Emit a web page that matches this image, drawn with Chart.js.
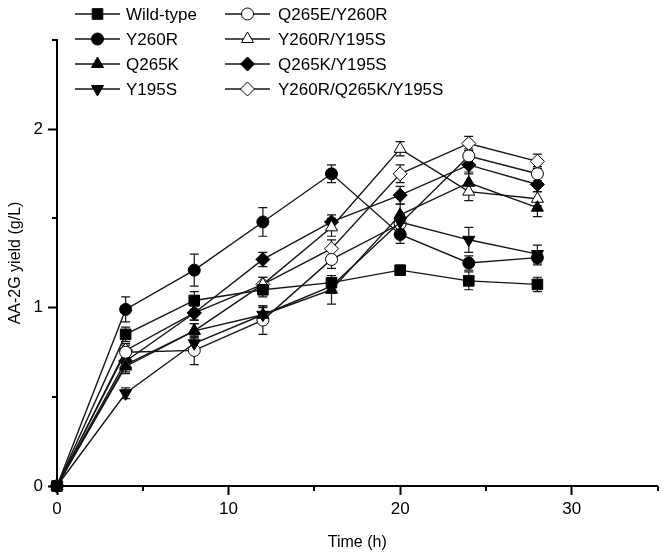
<!DOCTYPE html>
<html><head><meta charset="utf-8">
<script src="https://cdn.jsdelivr.net/npm/chart.js@4/dist/chart.umd.min.js"></script>
<style>html,body{margin:0;padding:0;background:#fff}</style>
</head><body>
<canvas id="c" width="666" height="556" style="width:666px;height:556px;display:block"></canvas>
<script>
// ---- data ----
const times = [0, 4, 8, 12, 16, 20, 24, 28];
const seriesNames = ["Wild-type", "Y260R", "Q265K", "Y195S", "Q265E/Y260R", "Y260R/Y195S", "Q265K/Y195S", "Y260R/Q265K/Y195S"];
const wildType      = [0, 0.85, 1.04, 1.10, 1.14, 1.21, 1.15, 1.13];
const y260r         = [0, 0.99, 1.21, 1.48, 1.75, 1.41, 1.25, 1.28];
const q265k         = [0, 0.67, 0.87, 0.96, 1.10, 1.52, 1.70, 1.56];
const y195s         = [0, 0.52, 0.80, 0.96, 1.12, 1.48, 1.38, 1.30];
const q265eY260r    = [0, 0.75, 0.76, 0.93, 1.27, 1.47, 1.85, 1.75];
const y260rY195s    = [0, 0.68, 0.87, 1.13, 1.45, 1.89, 1.65, 1.61];
const q265kY195s    = [0, 0.70, 0.97, 1.27, 1.48, 1.63, 1.80, 1.69];
const tripleMutant  = [0, 0.76, 0.97, 1.13, 1.33, 1.75, 1.92, 1.82];
// error bars (± SD)
const errWildType   = [0, 0.04, 0.05, 0.04, 0.04, 0.02, 0.05, 0.04];
const errY260r      = [0, 0.07, 0.09, 0.08, 0.05, 0.05, 0.04, 0.04];
const errQ265k      = [0, 0.04, 0.04, 0.05, 0.08, 0.06, 0.06, 0.05];
const errY195s      = [0, 0.03, 0.04, 0.04, 0.04, 0.04, 0.07, 0.05];
const errQ265eY260r = [0, 0.04, 0.08, 0.08, 0.05, 0.05, 0.04, 0.04];
const errY260rY195s = [0, 0.04, 0.04, 0.04, 0.05, 0.04, 0.05, 0.04];
const errQ265kY195s = [0, 0.04, 0.04, 0.04, 0.04, 0.05, 0.05, 0.04];
const errTriple     = [0, 0.04, 0.04, 0.04, 0.05, 0.05, 0.04, 0.04];
const xTicksLabelled = [0, 10, 20, 30];
const yTicksLabelled = [0, 1, 2];

const values = [wildType, y260r, q265k, y195s, q265eY260r, y260rY195s, q265kY195s, tripleMutant];
const errors = [errWildType, errY260r, errQ265k, errY195s, errQ265eY260r, errY260rY195s, errQ265kY195s, errTriple];

// marker styles
const styles = [
  {pointStyle: 'rect', radius: 7.5, rotation: 0, fill: '#000'},
  {pointStyle: 'circle', radius: 6, rotation: 0, fill: '#000'},
  {pointStyle: 'triangle', radius: 7, rotation: 0, fill: '#000'},
  {pointStyle: 'triangle', radius: 7, rotation: 180, fill: '#000'},
  {pointStyle: 'circle', radius: 6, rotation: 0, fill: '#fff'},
  {pointStyle: 'triangle', radius: 7, rotation: 0, fill: '#fff'},
  {pointStyle: 'rectRot', radius: 7, rotation: 0, fill: '#000'},
  {pointStyle: 'rectRot', radius: 7, rotation: 0, fill: '#fff'}
];
const LINE = '#151515';
const FONT = "'Liberation Sans', Arial, sans-serif";

const datasets = seriesNames.map((name, i) => ({
  label: name,
  data: times.map((t, j) => ({x: t, y: values[i][j]})),
  borderColor: LINE,
  borderWidth: 1.4,
  tension: 0,
  pointStyle: styles[i].pointStyle,
  pointRadius: styles[i].radius,
  pointRotation: styles[i].rotation,
  pointBackgroundColor: styles[i].fill,
  pointBorderColor: '#000',
  pointBorderWidth: 1,
  pointHoverRadius: styles[i].radius,
  clip: false
}));

const errorBarPlugin = {
  id: 'errorBars',
  beforeDatasetsDraw(chart) {
    const ctx = chart.ctx, xs = chart.scales.x, ys = chart.scales.y;
    ctx.save();
    ctx.strokeStyle = LINE;
    ctx.lineWidth = 1.2;
    values.forEach((vals, i) => {
      vals.forEach((v, j) => {
        const e = errors[i][j];
        if (!e) return;
        const x = xs.getPixelForValue(times[j]);
        const yt = ys.getPixelForValue(v + e), yb = ys.getPixelForValue(v - e);
        ctx.beginPath();
        ctx.moveTo(x, yt); ctx.lineTo(x, yb);
        ctx.moveTo(x - 4.5, yt); ctx.lineTo(x + 4.5, yt);
        ctx.moveTo(x - 4.5, yb); ctx.lineTo(x + 4.5, yb);
        ctx.stroke();
      });
    });
    ctx.restore();
  }
};

const minorTickPlugin = {
  id: 'minorTicks',
  afterDraw(chart) {
    const ctx = chart.ctx, xs = chart.scales.x, ys = chart.scales.y;
    const a = chart.chartArea;
    ctx.save();
    ctx.strokeStyle = '#000';
    ctx.lineWidth = 2;
    ctx.beginPath();
    xs.ticks.forEach(t => {
      if (xTicksLabelled.includes(t.value)) return;
      const x = Math.round(xs.getPixelForValue(t.value));
      ctx.moveTo(x, a.bottom); ctx.lineTo(x, a.bottom + 5);
    });
    ys.ticks.forEach(t => {
      if (yTicksLabelled.includes(t.value)) return;
      const y = Math.round(ys.getPixelForValue(t.value));
      ctx.moveTo(a.left, y); ctx.lineTo(a.left - 5, y);
    });
    ctx.stroke();
    ctx.restore();
  }
};

const legendPlugin = {
  id: 'customLegend',
  afterDraw(chart) {
    const ctx = chart.ctx;
    const rows = [14, 39, 64, 89];
    const cols = [{x0: 75, x1: 120, tx: 126}, {x0: 225, x1: 270, tx: 278}];
    const order = [[0, 1, 2, 3], [4, 5, 6, 7]];
    ctx.save();
    order.forEach((col, c) => {
      col.forEach((di, r) => {
        const y = rows[r], cc = cols[c];
        ctx.strokeStyle = LINE; ctx.lineWidth = 1.4;
        ctx.beginPath(); ctx.moveTo(cc.x0, y); ctx.lineTo(cc.x1, y); ctx.stroke();
        const s = styles[di];
        ctx.fillStyle = s.fill; ctx.strokeStyle = '#000'; ctx.lineWidth = 1;
        Chart.helpers.drawPoint(ctx, {pointStyle: s.pointStyle, radius: s.radius, rotation: s.rotation, borderWidth: 1}, (cc.x0 + cc.x1) / 2, y);
        ctx.fillStyle = '#000';
        ctx.font = "17px " + FONT;
        ctx.textBaseline = 'middle';
        ctx.textAlign = 'left';
        ctx.fillText(seriesNames[di], cc.tx, y + 1);
      });
    });
    ctx.restore();
  }
};

new Chart(document.getElementById('c'), {
  type: 'line',
  data: {datasets},
  options: {
    responsive: false,
    animation: false,
    layout: {padding: {top: 40, right: 5, left: 0, bottom: 0}},
    plugins: {legend: {display: false}, tooltip: {enabled: false}},
    scales: {
      x: {
        type: 'linear', min: 0, max: 35,
        afterFit(s) { s.height = 70; },
        ticks: {stepSize: 5, autoSkip: false, maxRotation: 0, padding: 4, color: '#000',
          font: {family: FONT, size: 17},
          callback: v => xTicksLabelled.includes(v) ? String(v) : ''},
        grid: {drawOnChartArea: false, drawTicks: true, tickLength: 9, tickWidth: 2,
          tickColor: c => (c.tick && xTicksLabelled.includes(c.tick.value)) ? '#000' : 'rgba(0,0,0,0)'},
        border: {color: '#000', width: 2},
        title: {display: true, text: 'Time (h)', color: '#000', font: {family: FONT, size: 16}, padding: {top: 0, bottom: 4}}
      },
      y: {
        type: 'linear', min: 0, max: 2.5,
        afterFit(s) { s.width = 57; },
        ticks: {stepSize: 0.5, autoSkip: false, padding: 5, color: '#000',
          font: {family: FONT, size: 17},
          callback: v => yTicksLabelled.includes(v) ? String(v) : ''},
        grid: {drawOnChartArea: false, drawTicks: true, tickLength: 9, tickWidth: 2,
          tickColor: c => (c.tick && yTicksLabelled.includes(c.tick.value)) ? '#000' : 'rgba(0,0,0,0)'},
        border: {color: '#000', width: 2},
        title: {display: true, text: 'AA-2G yield (g/L)', color: '#000', font: {family: FONT, size: 16}, padding: {top: 6, bottom: 0}}
      }
    }
  },
  plugins: [errorBarPlugin, minorTickPlugin, legendPlugin]
});
</script>
</body></html>
